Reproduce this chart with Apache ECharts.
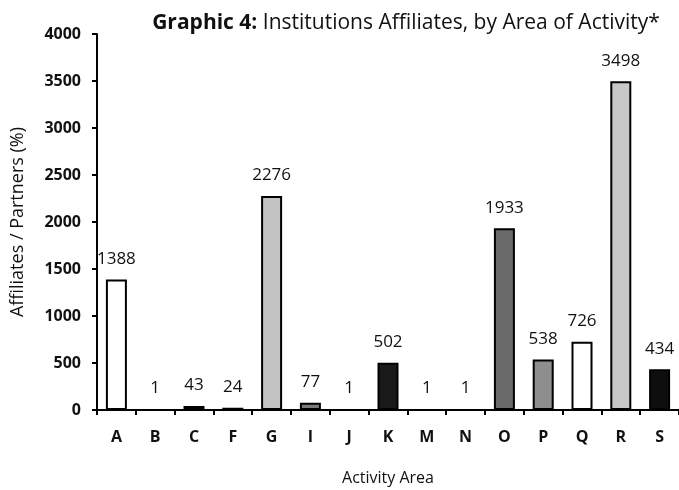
<!DOCTYPE html>
<html><head><meta charset="utf-8">
<script src="https://cdn.jsdelivr.net/npm/echarts@6/dist/echarts.min.js"></script>
<style>html,body{margin:0;padding:0;background:#fff}#c{width:679px;height:490px}</style>
</head><body><div id="c"></div>
<script>
const categories = ['A','B','C','F','G','I','J','K','M','N','O','P','Q','R','S'];
const values = [1388,1,43,24,2276,77,1,502,1,1,1933,538,726,3498,434];
const barColors = ['#ffffff','#888888','#6e6e6e','#4a4a4a','#c4c4c4','#7a7a7a','#888888','#1a1a1a','#888888','#888888','#6a6a6a','#8e8e8e','#ffffff','#c8c8c8','#0e0e0e'];
const yTicks = [0,500,1000,1500,2000,2500,3000,3500,4000];

const font = '"Open Sans", "Liberation Sans", sans-serif';
const chart = echarts.init(document.getElementById('c'));
chart.setOption({
  backgroundColor: '#fff',
  animation: false,
  title: {
    text: '{b|Graphic 4:} Institutions Affiliates, by Area of Activity*',
    left: 401, top: 8, textAlign: 'center',
    textStyle: { fontFamily: font, fontSize: 21, fontWeight: 'normal', color: '#111',
      rich: { b: { fontFamily: font, fontSize: 21, fontWeight: 'bold', color: '#111' } } }
  },
  grid: { left: 97, right: 0, top: 34, bottom: 80, containLabel: false, outerBoundsMode: 'none' },
  xAxis: {
    type: 'category', data: categories,
    name: 'Activity Area', nameLocation: 'middle', nameGap: 60,
    nameTextStyle: { fontFamily: font, fontSize: 16, color: '#111' },
    axisLine: { lineStyle: { color: '#000', width: 2 } },
    axisTick: { show: true, alignWithLabel: false, length: 5, lineStyle: { color: '#000', width: 2 } },
    axisLabel: { fontFamily: font, fontSize: 16, fontWeight: 'bold', color: '#111', margin: 19 }
  },
  yAxis: {
    type: 'value', min: 0, max: 4000, interval: 500,
    name: 'Affiliates / Partners (%)', nameLocation: 'middle', nameGap: 70,
    nameTextStyle: { fontFamily: font, fontSize: 18, color: '#111' },
    axisLine: { show: true, lineStyle: { color: '#000', width: 2 } },
    axisTick: { show: true, length: 5, lineStyle: { color: '#000', width: 2 } },
    splitLine: { show: false },
    axisLabel: { fontFamily: font, fontSize: 16, fontWeight: 'bold', color: '#111', margin: 16,
      formatter: v => yTicks.includes(v) ? String(v) : '' }
  },
  series: [{
    type: 'bar', barWidth: 21,
    data: values.map((v, i) => ({ value: v, itemStyle: { color: barColors[i] } })),
    itemStyle: { borderColor: '#000', borderWidth: 2 },
    label: { show: true, position: 'top', distance: 12, fontFamily: font, fontSize: 17, color: '#111' }
  }]
});
</script></body></html>
